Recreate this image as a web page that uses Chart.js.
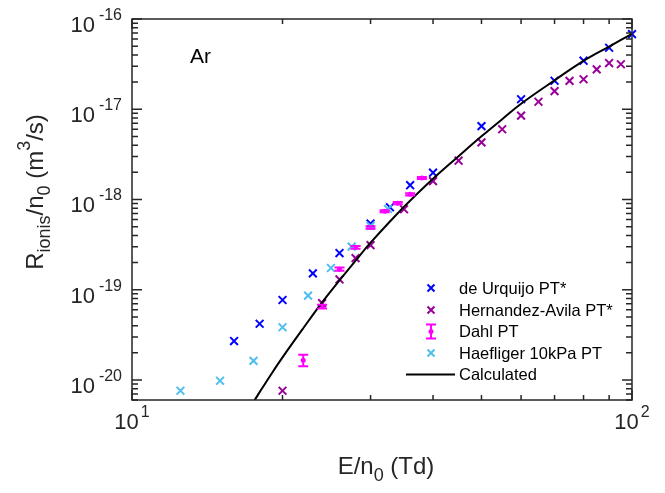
<!DOCTYPE html>
<html>
<head>
<meta charset="utf-8">
<script src="https://cdn.jsdelivr.net/npm/chart.js@4"></script>
<style>
  html, body { margin: 0; padding: 0; background: #fff; }
  canvas { display: block; }
</style>
</head>
<body>
<canvas id="myChart" width="665" height="493"></canvas>
<script>
// E/n0 (Td) and R/n0 (m^3/s)
const urquijoE = [16, 18, 20, 23, 26, 30, 32.8, 36, 40, 50, 60, 70, 80, 90, 100];
const urquijoR = [2.7e-20, 4.2e-20, 7.7e-20, 1.52e-19, 2.55e-19, 5.4e-19, 8.2e-19, 1.44e-18, 1.98e-18, 6.5e-18, 1.29e-17, 2.07e-17, 3.45e-17, 4.8e-17, 6.8e-17];

const hernandezE = [20, 24, 26, 28, 30, 35, 40, 45, 50, 55, 60, 65, 70, 75, 80, 85, 90, 95];
const hernandezR = [7.6e-21, 7.1e-20, 1.3e-19, 2.24e-19, 3.12e-19, 7.8e-19, 1.6e-18, 2.69e-18, 4.3e-18, 6.0e-18, 8.5e-18, 1.21e-17, 1.59e-17, 2.06e-17, 2.15e-17, 2.77e-17, 3.25e-17, 3.15e-17];

const dahlE  = [22, 24, 26, 28, 30, 32, 34, 36, 38];
const dahlR  = [1.65e-20, 6.5e-20, 1.69e-19, 2.95e-19, 4.9e-19, 7.4e-19, 9.1e-19, 1.14e-18, 1.73e-18];
const dahlLo = [1.42e-20, 6.2e-20, 1.62e-19, 2.85e-19, 4.75e-19, 7.2e-19, 8.85e-19, 1.11e-18, 1.69e-18];
const dahlHi = [1.9e-20, 6.8e-20, 1.76e-19, 3.05e-19, 5.05e-19, 7.6e-19, 9.35e-19, 1.17e-18, 1.77e-18];

const haefligerE = [12.5, 15, 17.5, 20, 22.5, 25, 27.5, 30, 32.5];
const haefligerR = [7.6e-21, 9.8e-21, 1.63e-20, 3.84e-20, 8.6e-20, 1.74e-19, 3.0e-19, 5.1e-19, 7.85e-19];

const calcE = [17.6, 18, 19, 20, 22, 24, 26, 28, 30, 35, 40, 45, 50, 55, 60, 70, 80, 90, 100];
const calcR = [6.0e-21, 7.33e-21, 1.167e-20, 1.78e-20, 3.74e-20, 7.24e-20, 1.27e-19, 2.1e-19, 3.32e-19, 8.3e-19, 1.7e-18, 3.02e-18, 5.01e-18, 7.76e-18, 1.15e-17, 2.09e-17, 3.43e-17, 4.95e-17, 6.84e-17];

const xMajor = [10, 100];
const xMajorExp = ['1', '2'];
const yMajorExp = [-20, -19, -18, -17, -16];

const seriesNames = ['de Urquijo PT*', 'Hernandez-Avila PT*', 'Dahl PT', 'Haefliger 10kPa PT', 'Calculated'];
const colors = ['#0000ff', '#990099', '#ff00ff', '#4dbeee', '#000000'];

const FONT = '"Liberation Sans", Arial, sans-serif';
const AXIS = '#262626';

function toPts(xs, ys) {
    return xs.map((x, i) => ({x: x, y: ys[i]}));
}

// text with sub/superscripts; kind 0 normal, 1 sub, -1 sup
function drawRich(ctx, parts, x, y, big, small, align, supGap) {
    const gap = supGap || 0;
    let w = 0;
    parts.forEach(p => {
        ctx.font = (p[1] ? small : big) + 'px ' + FONT;
        w += ctx.measureText(p[0]).width + (p[1] === -1 ? gap : 0);
    });
    let cx = align === 'center' ? x - w / 2 : (align === 'right' ? x - w : x);
    ctx.textAlign = 'left';
    ctx.textBaseline = 'alphabetic';
    parts.forEach(p => {
        ctx.font = (p[1] ? small : big) + 'px ' + FONT;
        if (p[1] === -1) cx += gap;
        let dy = p[1] === 1 ? big * 0.3 : (p[1] === -1 ? -big * 0.55 : 0);
        ctx.fillText(p[0], cx, y + dy);
        cx += ctx.measureText(p[0]).width;
    });
}

function drawCross(ctx, x, y, r, color, lw) {
    ctx.strokeStyle = color;
    ctx.lineWidth = lw;
    ctx.beginPath();
    ctx.moveTo(x - r, y - r); ctx.lineTo(x + r, y + r);
    ctx.moveTo(x - r, y + r); ctx.lineTo(x + r, y - r);
    ctx.stroke();
}

function drawErrBar(ctx, x, yT, yB, color) {
    ctx.strokeStyle = color;
    ctx.lineWidth = 2;
    ctx.beginPath();
    ctx.moveTo(x, yT); ctx.lineTo(x, yB);
    ctx.moveTo(x - 5, yT); ctx.lineTo(x + 5, yT);
    ctx.moveTo(x - 5, yB); ctx.lineTo(x + 5, yB);
    ctx.stroke();
}

const errorBars = {
    id: 'errorBars',
    afterDatasetsDraw(chart) {
        const ctx = chart.ctx, xs = chart.scales.x, ys = chart.scales.y;
        ctx.save();
        dahlE.forEach((e, i) => {
            const px = xs.getPixelForValue(e);
            drawErrBar(ctx, px, ys.getPixelForValue(dahlHi[i]), ys.getPixelForValue(dahlLo[i]), colors[2]);
        });
        ctx.restore();
    }
};

const frame = {
    id: 'frame',
    afterDraw(chart) {
        const ctx = chart.ctx, a = chart.chartArea;
        const xs = chart.scales.x, ys = chart.scales.y;
        ctx.save();
        ctx.strokeStyle = AXIS;
        ctx.lineWidth = 1.5;
        ctx.strokeRect(a.left, a.top, a.right - a.left, a.bottom - a.top);

        ctx.beginPath();
        // x ticks
        for (let v = 10; v <= 100; v += 10) {
            const px = xs.getPixelForValue(v);
            const len = (v === 10 || v === 100) ? 10 : 5;
            ctx.moveTo(px, a.bottom); ctx.lineTo(px, a.bottom - len);
            ctx.moveTo(px, a.top); ctx.lineTo(px, a.top + len);
        }
        // y ticks
        for (let e = -21; e <= -17; e++) {
            for (let k = 1; k <= 10; k++) {
                const v = k * Math.pow(10, e);
                if (v < ys.min * 0.999 || v > ys.max * 1.001) continue;
                const py = ys.getPixelForValue(v);
                const len = (k === 1 || k === 10) ? 10 : 6;
                ctx.moveTo(a.left, py); ctx.lineTo(a.left + len, py);
                ctx.moveTo(a.right, py); ctx.lineTo(a.right - len, py);
            }
        }
        ctx.stroke();

        // tick labels
        ctx.fillStyle = AXIS;
        yMajorExp.forEach(e => {
            const py = ys.getPixelForValue(Math.pow(10, e));
            drawRich(ctx, [['10', 0], [String(e), -1]], 122, py + 13, 22, 16, 'right', 4);
        });
        xMajor.forEach((v, i) => {
            const px = xs.getPixelForValue(v);
            drawRich(ctx, [['10', 0], [xMajorExp[i], -1]], px, 429, 22, 16, 'center', 2);
        });

        // axis titles
        drawRich(ctx, [['E/n', 0], ['0', 1], [' (Td)', 0]], (a.left + a.right) / 2 + 4, 474, 24, 18, 'center');
        ctx.save();
        ctx.translate(43, 192);
        ctx.rotate(-Math.PI / 2);
        drawRich(ctx, [['R', 0], ['ionis', 1], ['/n', 0], ['0', 1], [' (m', 0], ['3', -1], ['/s)', 0]], 0, 0, 24, 18, 'center');
        ctx.restore();

        // label in plot
        ctx.fillStyle = '#000';
        ctx.font = '21px ' + FONT;
        ctx.textAlign = 'left';
        ctx.fillText('Ar', 190, 63);

        // legend
        const rows = [288, 310, 331.5, 353, 374.5];
        rows.forEach((ry, i) => {
            const mx = 431;
            if (i === 0 || i === 1 || i === 3) drawCross(ctx, mx, ry, 3.5, colors[i], 2);
            if (i === 2) {
                drawErrBar(ctx, mx, ry - 7, ry + 7, colors[2]);
                ctx.fillStyle = colors[2];
                ctx.beginPath(); ctx.arc(mx, ry, 2.5, 0, Math.PI * 2); ctx.fill();
            }
            if (i === 4) {
                ctx.strokeStyle = '#000'; ctx.lineWidth = 2;
                ctx.beginPath(); ctx.moveTo(406, ry); ctx.lineTo(455, ry); ctx.stroke();
            }
            ctx.fillStyle = '#000';
            ctx.textAlign = 'left';
            ctx.textBaseline = 'middle';
            ctx.font = '16.5px ' + FONT;
            ctx.fillText(seriesNames[i], 459, ry + 1);
        });
        ctx.restore();
    }
};

const ctx = document.getElementById('myChart').getContext('2d');

let chart = new Chart(ctx, {
    type: 'scatter',
    data: {
        datasets: [{
            label: seriesNames[0],
            data: toPts(urquijoE, urquijoR),
            pointStyle: 'crossRot',
            pointRadius: 5.5,
            borderColor: colors[0],
            borderWidth: 2,
            clip: 10,
            order: 2
        }, {
            label: seriesNames[1],
            data: toPts(hernandezE, hernandezR),
            pointStyle: 'crossRot',
            pointRadius: 5.5,
            borderColor: colors[1],
            borderWidth: 2,
            clip: 10,
            order: 3
        }, {
            label: seriesNames[2],
            data: toPts(dahlE, dahlR),
            pointStyle: 'circle',
            pointRadius: 2.5,
            backgroundColor: colors[2],
            borderColor: colors[2],
            borderWidth: 0,
            clip: 10,
            order: 4
        }, {
            label: seriesNames[3],
            data: toPts(haefligerE, haefligerR),
            pointStyle: 'crossRot',
            pointRadius: 5.5,
            borderColor: colors[3],
            borderWidth: 2,
            clip: 10,
            order: 1
        }, {
            label: seriesNames[4],
            data: toPts(calcE, calcR),
            type: 'line',
            showLine: true,
            borderColor: colors[4],
            borderWidth: 2,
            pointRadius: 0,
            fill: false,
            tension: 0.4,
            order: 0
        }]
    },
    options: {
        responsive: false,
        animation: false,
        devicePixelRatio: 1,
        layout: { autoPadding: false, padding: { left: 132, right: 33, top: 19, bottom: 93 } },
        scales: {
            x: { type: 'logarithmic', min: 10, max: 100, display: false },
            y: { type: 'logarithmic', min: 6e-21, max: 1e-16, display: false }
        },
        plugins: { legend: { display: false }, tooltip: { enabled: false } }
    },
    plugins: [errorBars, frame]
});
</script>
</body>
</html>
